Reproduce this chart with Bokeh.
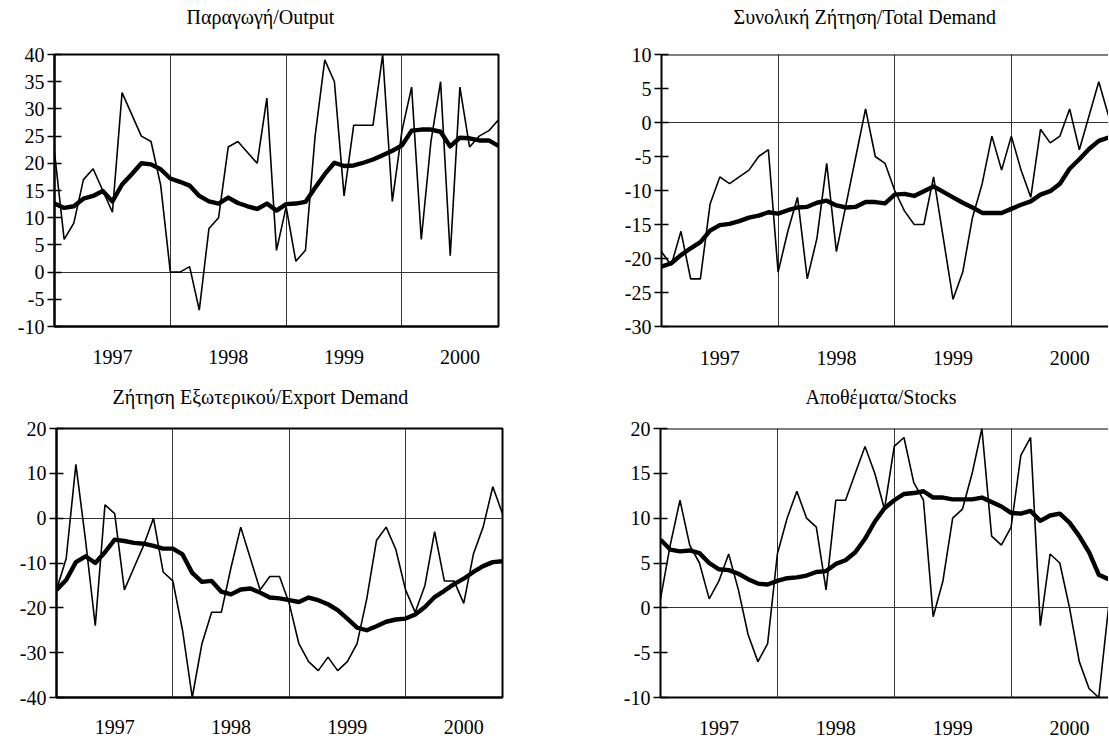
from bokeh.plotting import figure
from bokeh.layouts import column, row
from bokeh.models import FixedTicker, Range1d, Span, Title
from bokeh.embed import file_html
from bokeh.resources import INLINE

# ---------------- data (monthly, Jan 1997 - Nov 2000) ----------------
months = list(range(47))
year_labels = ["1997", "1998", "1999", "2000"]
year_label_pos = [6, 18, 30, 42]
year_breaks = [12, 24, 36]

output_thin = [22, 6, 9, 17, 19, 15, 11, 33, 29, 25, 24, 16, 0, 0, 1, -7, 8, 10, 23, 24,
               22, 20, 32, 4, 12, 2, 4, 25, 39, 35, 14, 27, 27, 27, 40, 13, 26, 34, 6, 24,
               35, 3, 34, 23, 25, 26, 28]
output_ma = [12.6, 11.8, 12.1, 13.5, 14.0, 14.9, 13.0, 16.1, 18.0, 20.0, 19.8, 18.9, 17.2, 16.6,
             15.9, 14.0, 13.0, 12.6, 13.7, 12.7, 12.1, 11.6, 12.6, 11.3, 12.5, 12.6, 12.9, 15.5,
             18.0, 20.1, 19.5, 19.6, 20.1, 20.7, 21.5, 22.3, 23.3, 26.0, 26.2, 26.2, 25.8, 23.1,
             24.7, 24.6, 24.2, 24.2, 23.2]

demand_thin = [-19, -21, -16, -23, -23, -12, -8, -9, -8, -7, -5, -4, -22, -16, -11, -23, -17, -6,
               -19, -12, -5, 2, -5, -6, -10, -13, -15, -15, -8, -17, -26, -22, -14, -9, -2, -7,
               -2, -7, -11, -1, -3, -2, 2, -4, 1, 6, 1]
demand_ma = [-21.2, -20.7, -19.5, -18.5, -17.6, -15.9, -15.1, -14.9, -14.5, -14.0, -13.7, -13.2,
             -13.4, -12.9, -12.5, -12.4, -11.8, -11.5, -12.2, -12.5, -12.4, -11.7, -11.7, -11.9,
             -10.6, -10.5, -10.8, -10.1, -9.4, -10.2, -11.0, -11.8, -12.5, -13.3, -13.3, -13.3,
             -12.7, -12.1, -11.6, -10.6, -10.1, -9.0, -6.8, -5.4, -3.9, -2.7, -2.2]

export_thin = [-16, -9, 12, -5, -24, 3, 1, -16, -11, -6, 0, -12, -14, -25, -40, -28, -21, -21,
               -11, -2, -9, -16, -13, -13, -19, -28, -32, -34, -31, -34, -32, -28, -18, -5, -2,
               -7, -16, -21, -15, -3, -14, -14, -19, -8, -2, 7, 1]
export_ma = [-16.0, -13.8, -9.8, -8.5, -10.0, -7.6, -4.8, -5.1, -5.5, -5.7, -6.2, -6.8, -6.8,
             -8.1, -12.2, -14.2, -14.0, -16.4, -17.0, -15.9, -15.7, -16.6, -17.7, -17.9, -18.3,
             -18.7, -17.7, -18.3, -19.2, -20.5, -22.4, -24.4, -25.0, -24.1, -23.1, -22.6, -22.4,
             -21.5, -19.8, -17.6, -16.2, -14.7, -13.5, -12.0, -10.7, -9.8, -9.6]

stocks_thin = [1, 7, 12, 7, 5, 1, 3, 6, 2, -3, -6, -4, 6, 10, 13, 10, 9, 2, 12, 12,
               15, 18, 15, 11, 18, 19, 14, 12, -1, 3, 10, 11, 15, 20, 8, 7, 9, 17, 19, -2,
               6, 5, 0, -6, -9, -10, 0]
stocks_ma = [7.6, 6.5, 6.3, 6.4, 6.1, 5.0, 4.3, 4.2, 3.8, 3.2, 2.7, 2.6, 3.0, 3.3, 3.4, 3.6,
             4.0, 4.1, 4.9, 5.3, 6.2, 7.7, 9.6, 11.1, 12.0, 12.7, 12.8, 13.0, 12.3, 12.3, 12.1,
             12.1, 12.1, 12.3, 11.8, 11.3, 10.6, 10.5, 10.8, 9.7, 10.3, 10.5, 9.5, 8.0, 6.2,
             3.7, 3.2]

titles = ["Παραγωγή/Output", "Συνολική Ζήτηση/Total Demand",
          "Ζήτηση Εξωτερικού/Export Demand", "Αποθέματα/Stocks"]

FONT = "Liberation Serif"
FS = "20px"


def panel(title, thin, ma, ymin, ymax, ystep, width, height, bl, br, bt, bb,
          title_offset, title_standoff, spacer_standoff, xlab_standoff, right_open):
    p = figure(width=width, height=height, output_backend="svg", toolbar_location=None,
               x_range=Range1d(0, 46), y_range=Range1d(ymin, ymax),
               min_border_left=bl, min_border_right=br, min_border_top=bt,
               min_border_bottom=bb, background_fill_color="white",
               border_fill_color="white")

    p.title.text = ""
    # spacer next to the frame, then the real title further up
    p.add_layout(Title(text=" ", text_font_size="1px", standoff=spacer_standoff), "above")
    p.add_layout(Title(text=title, align="left", offset=title_offset,
                       vertical_align="bottom", text_font=FONT,
                       text_font_style="normal", text_font_size=FS,
                       text_color="black", standoff=title_standoff), "above")

    # grid: year boundaries and zero line
    p.xgrid.ticker = FixedTicker(ticks=year_breaks)
    p.ygrid.ticker = FixedTicker(ticks=[0])
    p.xgrid.grid_line_color = "#333333"
    p.ygrid.grid_line_color = "#333333"
    p.xgrid.grid_line_width = 1
    p.ygrid.grid_line_width = 1

    # x axis
    p.xaxis.ticker = FixedTicker(ticks=year_label_pos)
    p.xaxis.major_label_overrides = {k: v for k, v in zip(year_label_pos, year_labels)}
    p.xaxis.major_tick_in = 0
    p.xaxis.major_tick_out = 0
    p.xaxis.minor_tick_line_color = None
    p.xaxis.major_label_standoff = xlab_standoff
    p.xaxis.major_label_text_font = FONT
    p.xaxis.major_label_text_font_size = FS
    p.xaxis.major_label_text_color = "black"
    p.xaxis.axis_line_width = 2
    p.xaxis.axis_line_color = "black"

    # y axis
    yt = list(range(ymin, ymax + 1, ystep))
    p.yaxis.ticker = FixedTicker(ticks=yt)
    p.yaxis.major_label_overrides = {v: str(v) for v in yt}
    p.yaxis.major_tick_in = 7
    p.yaxis.major_tick_out = 7
    p.yaxis.major_tick_line_width = 1.5
    p.yaxis.major_tick_line_color = "black"
    p.yaxis.minor_tick_line_color = None
    p.yaxis.major_label_standoff = 3
    p.yaxis.major_label_text_font = FONT
    p.yaxis.major_label_text_font_size = FS
    p.yaxis.major_label_text_color = "black"
    p.yaxis.axis_line_width = 2
    p.yaxis.axis_line_color = "black"

    if right_open:
        p.outline_line_color = None
        p.add_layout(Span(location=ymax, dimension="width", line_color="black",
                          line_width=2))
    else:
        p.outline_line_color = "black"
        p.outline_line_width = 2
        p.outline_line_alpha = 1

    p.line(months, thin, line_color="black", line_width=1.6)
    p.line(months, ma, line_color="black", line_width=4.4, line_join="round")
    return p


p1 = panel(titles[0], output_thin, output_ma, -10, 40, 5, 588, 376, 54, 90, 54, 50,
           132, 4, 22, 23, False)
p2 = panel(titles[1], demand_thin, demand_ma, -30, 10, 5, 520, 376, 73, 0, 54, 50,
           72, 4, 22, 24, True)
p3 = panel(titles[2], export_thin, export_ma, -40, 20, 10, 588, 368, 56, 86, 52, 47,
           56, 12, 12, 22, False)
p4 = panel(titles[3], stocks_thin, stocks_ma, -10, 20, 5, 520, 368, 72, 0, 52, 47,
           145, 12, 12, 23, True)

layout = column(row(p1, p2), row(p3, p4))

open("out.html", "w").write(file_html(layout, INLINE))
